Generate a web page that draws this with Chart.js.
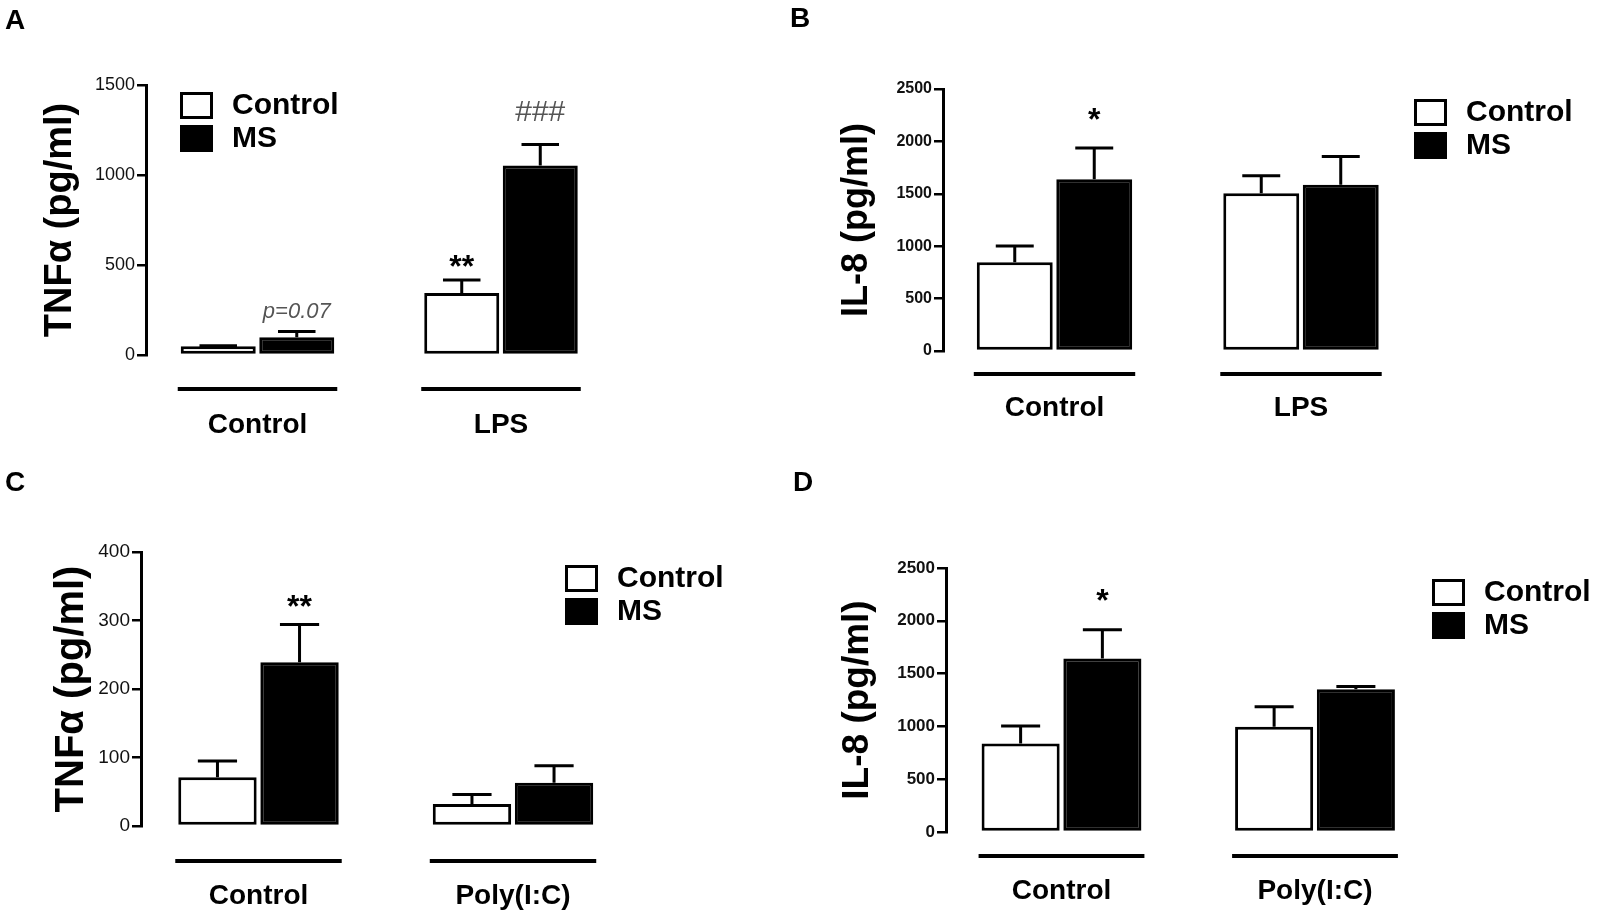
<!DOCTYPE html>
<html>
<head>
<meta charset="utf-8">
<title>TNFα and IL-8</title>
<script src="https://cdn.jsdelivr.net/npm/chart.js@4.4.1/dist/chart.umd.min.js"></script>
<style>
  html, body { margin: 0; padding: 0; background: #fff; }
  #page { position: relative; width: 1600px; height: 917px; overflow: hidden;
          font-family: "Liberation Sans", Arial, sans-serif; }
  .layer { position: absolute; left: 0; top: 0; width: 1600px; height: 917px; }
  .letter { position: absolute; font-weight: bold; font-size: 28px; line-height: 28px; color: #000; }
</style>
</head>
<body>
<div id="page">
  <div class="layer"><canvas id="chartA"></canvas></div>
  <div class="layer"><canvas id="chartB"></canvas></div>
  <div class="layer"><canvas id="chartC"></canvas></div>
  <div class="layer"><canvas id="chartD"></canvas></div>
  <div class="letter" style="left:5px;top:6px">A</div>
  <div class="letter" style="left:790px;top:4px">B</div>
  <div class="letter" style="left:5px;top:468px">C</div>
  <div class="letter" style="left:793px;top:468px">D</div>
</div>
<script>
// series and groups
const seriesNames = ['Control', 'MS'];
const groupsLPS = ['Control', 'LPS'];
const groupsPIC = ['Control', 'Poly(I:C)'];

// A: TNFα after LPS
const tnfLpsCtrl = [48, 345];
const tnfLpsCtrlErr = [3, 72];
const tnfLpsMS = [98, 1053];
const tnfLpsMSErr = [33, 117];
const tnfLpsTicks = [0, 500, 1000, 1500];
const tnfLpsMarks = [[1, 0, 'p=0.07'], [0, 1, '**'], [1, 1, '###']];

// B: IL-8 after LPS
const il8LpsCtrl = [846, 1505];
const il8LpsCtrlErr = [155, 168];
const il8LpsMS = [1638, 1587];
const il8LpsMSErr = [298, 270];
const il8LpsTicks = [0, 500, 1000, 1500, 2000, 2500];
const il8LpsMarks = [[1, 0, '*']];

// C: TNFα after Poly(I:C)
const tnfPicCtrl = [71, 32];
const tnfPicCtrlErr = [24, 14];
const tnfPicMS = [239, 63];
const tnfPicMSErr = [55, 25];
const tnfPicTicks = [0, 100, 200, 300, 400];
const tnfPicMarks = [[1, 0, '**']];

// D: IL-8 after Poly(I:C)
const il8PicCtrl = [839, 997];
const il8PicCtrlErr = [164, 190];
const il8PicMS = [1642, 1351];
const il8PicMSErr = [273, 26];
const il8PicTicks = [0, 500, 1000, 1500, 2000, 2500];
const il8PicMarks = [[1, 0, '*']];

const FONT = '"Liberation Sans", Arial, sans-serif';
const PAGE_W = 1600, PAGE_H = 917;

// 标注文字样式
const markStyle = {
  '*':      { font: 'bold 32px ' + FONT, color: '#000' },
  '**':     { font: 'bold 32px ' + FONT, color: '#000' },
  '###':    { font: '30px ' + FONT, color: '#555' },
  'p=0.07': { font: 'italic 22px ' + FONT, color: '#555' }
};

// 误差线、分组横线、显著性标注、图例
const extras = {
  id: 'extras',
  afterDatasetsDraw(chart, args, opts) {
    const ctx = chart.ctx;
    const yScale = chart.scales.y;
    const area = chart.chartArea;
    ctx.save();
    ctx.strokeStyle = '#000';
    ctx.lineCap = 'butt';

    // error bars (upper only)
    chart.data.datasets.forEach((ds, di) => {
      chart.getDatasetMeta(di).data.forEach((bar, i) => {
        const top = yScale.getPixelForValue(ds.data[i].y + ds.errors[i]);
        const half = bar.width / 4;
        ctx.lineWidth = 3;
        ctx.beginPath();
        ctx.moveTo(bar.x, bar.y);
        ctx.lineTo(bar.x, top);
        ctx.moveTo(bar.x - half, top);
        ctx.lineTo(bar.x + half, top);
        ctx.stroke();
      });
    });

    // group underlines
    const first = chart.getDatasetMeta(0).data;
    const last = chart.getDatasetMeta(chart.data.datasets.length - 1).data;
    ctx.lineWidth = 4;
    first.forEach((b0, i) => {
      const b1 = last[i];
      const y = area.bottom + opts.lineGap;
      ctx.beginPath();
      ctx.moveTo(b0.x - b0.width / 2 - 3, y);
      ctx.lineTo(b1.x + b1.width / 2 + 3, y);
      ctx.stroke();
    });

    // significance marks
    ctx.textAlign = 'center';
    ctx.textBaseline = 'alphabetic';
    opts.marks.forEach(([s, g, text], k) => {
      const ds = chart.data.datasets[s];
      const bar = chart.getDatasetMeta(s).data[g];
      const top = yScale.getPixelForValue(ds.data[g].y + ds.errors[g]);
      ctx.font = markStyle[text].font;
      ctx.fillStyle = markStyle[text].color;
      ctx.fillText(text, bar.x, top - opts.markGaps[k]);
    });

    // legend
    const lg = opts.legend;
    ctx.textAlign = 'left';
    ctx.textBaseline = 'middle';
    ctx.font = 'bold 30px ' + FONT;
    chart.data.datasets.forEach((ds, di) => {
      const y = lg.y + di * 33;
      ctx.fillStyle = ds.backgroundColor;
      ctx.fillRect(lg.x, y, 33, 27);
      ctx.lineWidth = 3;
      ctx.strokeRect(lg.x + 1.5, y + 1.5, 30, 24);
      ctx.fillStyle = '#000';
      ctx.fillText(ds.label, lg.x + 52, y + 14);
    });
    ctx.restore();
  }
};

function makePanel(p) {
  const lh = p.titleSize * 1.2;
  const boxLeft = p.titleX - lh / 2;
  const yW = p.axisX - boxLeft;
  const xAxisH = PAGE_H - p.bottom;   // x axis box runs to the page bottom so labels are not clipped
  const xMin = (p.axisX - p.c0) / p.unit;
  const xMax = 1.6;
  const right = p.c0 + xMax * p.unit;
  const values = [p.ctrl, p.ms];
  const errs = [p.ctrlErr, p.msErr];
  const fills = ['#fff', '#000'];

  return new Chart(document.getElementById(p.canvas), {
    type: 'bar',
    data: {
      datasets: seriesNames.map((name, s) => ({
        label: name,
        data: p.groups.map((g, i) => ({ x: i, y: values[s][i] })),
        errors: errs[s],
        backgroundColor: fills[s],
        borderColor: '#000',
        borderWidth: 3,
        borderSkipped: false,
        categoryPercentage: 0.645,
        barPercentage: 0.955
      }))
    },
    options: {
      responsive: true,
      maintainAspectRatio: false,
      animation: false,
      events: [],
      layout: {
        padding: { left: boxLeft, top: p.top, right: PAGE_W - right, bottom: 0 }
      },
      plugins: {
        legend: { display: false },
        tooltip: { enabled: false },
        extras: { lineGap: p.lineGap, marks: p.marks, markGaps: p.markGaps, legend: p.legend }
      },
      scales: {
        x: {
          type: 'linear',
          offset: false,
          min: xMin,
          max: xMax,
          grid: { display: false, drawTicks: false },
          border: { display: false },
          afterBuildTicks: s => { s.ticks = p.groups.map((g, i) => ({ value: i })); },
          afterFit: s => { s.height = xAxisH; },
          ticks: {
            autoSkip: false,
            maxRotation: 0,
            padding: p.labelPad,
            color: '#000',
            font: { family: FONT, size: 28, weight: 'bold' },
            callback: v => p.groups[v]
          }
        },
        y: {
          type: 'linear',
          min: p.ticks[0],
          max: p.ticks[p.ticks.length - 1],
          afterBuildTicks: s => { s.ticks = p.ticks.map(v => ({ value: v })); },
          afterFit: s => { s.width = yW; },
          grid: { drawOnChartArea: false, drawTicks: true, tickLength: 9, color: '#000', lineWidth: 2.5 },
          border: { display: true, color: '#000', width: 3 },
          ticks: {
            padding: 2,
            color: '#111',
            font: { family: FONT, size: p.tickSize, weight: p.tickWeight },
            callback: v => String(v)
          },
          title: {
            display: true,
            text: p.title,
            color: '#000',
            padding: 0,
            font: { family: FONT, size: p.titleSize, weight: 'bold' }
          }
        }
      }
    },
    plugins: [extras]
  });
}

makePanel({
  canvas: 'chartA', groups: groupsLPS,
  ctrl: tnfLpsCtrl, ctrlErr: tnfLpsCtrlErr, ms: tnfLpsMS, msErr: tnfLpsMSErr,
  ticks: tnfLpsTicks, marks: tnfLpsMarks, markGaps: [13, 3, 23],
  title: 'TNFα (pg/ml)', titleSize: 38, titleX: 61,
  axisX: 146, top: 85, bottom: 355, c0: 257.5, unit: 243.5,
  tickSize: 18, tickWeight: 'normal', labelPad: 53, lineGap: 34,
  legend: { x: 180, y: 92 }
});

makePanel({
  canvas: 'chartB', groups: groupsLPS,
  ctrl: il8LpsCtrl, ctrlErr: il8LpsCtrlErr, ms: il8LpsMS, msErr: il8LpsMSErr,
  ticks: il8LpsTicks, marks: il8LpsMarks, markGaps: [18],
  title: 'IL-8 (pg/ml)', titleSize: 36, titleX: 857,
  axisX: 943, top: 89, bottom: 351, c0: 1054.5, unit: 246.5,
  tickSize: 16, tickWeight: 'bold', labelPad: 40, lineGap: 23,
  legend: { x: 1414, y: 99 }
});

makePanel({
  canvas: 'chartC', groups: groupsPIC,
  ctrl: tnfPicCtrl, ctrlErr: tnfPicCtrlErr, ms: tnfPicMS, msErr: tnfPicMSErr,
  ticks: tnfPicTicks, marks: tnfPicMarks, markGaps: [8],
  title: 'TNFα (pg/ml)', titleSize: 40, titleX: 72,
  axisX: 141, top: 552, bottom: 826, c0: 258.5, unit: 254.5,
  tickSize: 19, tickWeight: 'normal', labelPad: 53, lineGap: 35,
  legend: { x: 565, y: 565 }
});

makePanel({
  canvas: 'chartD', groups: groupsPIC,
  ctrl: il8PicCtrl, ctrlErr: il8PicCtrlErr, ms: il8PicMS, msErr: il8PicMSErr,
  ticks: il8PicTicks, marks: il8PicMarks, markGaps: [19],
  title: 'IL-8 (pg/ml)', titleSize: 37, titleX: 858,
  axisX: 946, top: 568, bottom: 832, c0: 1061.5, unit: 253.5,
  tickSize: 17, tickWeight: 'bold', labelPad: 42, lineGap: 24,
  legend: { x: 1432, y: 579 }
});
</script>
</body>
</html>
